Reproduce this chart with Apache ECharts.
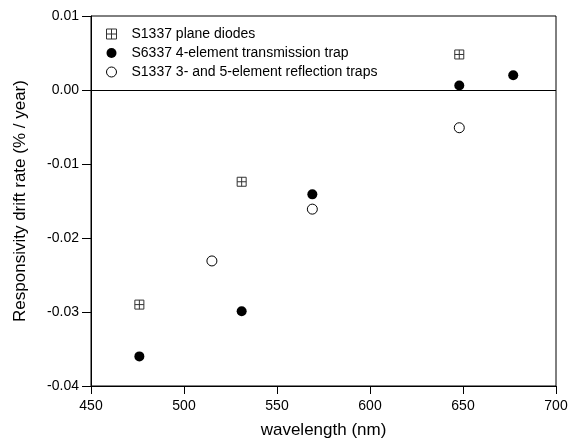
<!DOCTYPE html>
<html>
<head>
<meta charset="utf-8">
<script src="https://cdn.jsdelivr.net/npm/echarts@6/dist/echarts.min.js"></script>
<style>html,body{margin:0;padding:0;background:#fff}#c{width:568px;height:443px}</style>
</head>
<body>
<div id="c"></div>
<script>
const seriesNames = ['S1337 plane diodes', 'S6337 4-element transmission trap', 'S1337 3- and 5-element reflection traps'];
const planeDiodes = [[476, -0.0290], [531, -0.0124], [648, 0.0048]];
const transmissionTrap = [[476, -0.0360], [531, -0.0299], [569, -0.0141], [648, 0.0006], [677, 0.0020]];
const reflectionTraps = [[515, -0.0231], [569, -0.0161], [648, -0.0051]];
const xTicks = [450, 500, 550, 600, 650, 700];
const yTicks = [-0.04, -0.03, -0.02, -0.01, 0.00, 0.01];

const font = 'Liberation Sans, Arial, sans-serif';
const crossSquare = 'path://M0,0L10,0L10,10L0,10Z M5,0L5,10 M0,5L10,5';

const chart = echarts.init(document.getElementById('c'), null, {renderer: 'canvas'});
chart.setOption({
  animation: false,
  backgroundColor: '#fff',
  textStyle: {fontFamily: font, color: '#000'},
  grid: {left: 91, right: 12, top: 16, bottom: 57, show: true, borderColor: '#000', borderWidth: 1,
         backgroundColor: 'transparent', containLabel: false, outerBoundsMode: 'none'},
  legend: {
    orient: 'vertical', left: 101, top: 22, itemGap: 5, itemWidth: 10, itemHeight: 10,
    textStyle: {fontFamily: font, fontSize: 14, color: '#000', padding: [0, 0, 0, 10]},
    data: [
      {name: seriesNames[0], icon: crossSquare, itemStyle: {color: '#fff', borderColor: '#333', borderWidth: 1}},
      {name: seriesNames[1], icon: 'circle', itemStyle: {color: '#000'}},
      {name: seriesNames[2], icon: 'circle', itemStyle: {color: '#fff', borderColor: '#000', borderWidth: 1}}
    ]
  },
  xAxis: {
    type: 'value', min: xTicks[0], max: xTicks[xTicks.length - 1], interval: 50,
    name: 'wavelength (nm)', nameLocation: 'middle', nameGap: 36,
    nameTextStyle: {fontFamily: font, fontSize: 17, color: '#000'},
    axisLine: {show: true, onZero: false, lineStyle: {color: '#000', width: 1}},
    axisTick: {show: true, inside: false, length: 8, lineStyle: {color: '#000'}},
    axisLabel: {margin: 13, fontSize: 14, color: '#000', fontFamily: font},
    splitLine: {show: false}
  },
  yAxis: {
    type: 'value', min: yTicks[0], max: yTicks[yTicks.length - 1], interval: 0.01,
    name: 'Responsivity drift rate (% / year)', nameLocation: 'middle', nameGap: 62, nameRotate: 90,
    nameTextStyle: {fontFamily: font, fontSize: 17, color: '#000'},
    axisLine: {show: true, onZero: false, lineStyle: {color: '#000', width: 1}},
    axisTick: {show: true, inside: false, length: 9, lineStyle: {color: '#000'}},
    axisLabel: {margin: 12, fontSize: 14, color: '#000', fontFamily: font, formatter: v => v.toFixed(2)},
    splitLine: {show: false}
  },
  series: [
    {
      name: seriesNames[0], type: 'scatter', data: planeDiodes, symbol: crossSquare, symbolSize: 9,
      itemStyle: {color: '#fff', borderColor: '#333', borderWidth: 1, opacity: 1},
      markLine: {silent: true, symbol: 'none', label: {show: false}, lineStyle: {color: '#000', width: 1, type: 'solid'}, data: [{yAxis: 0}]},
      z: 3
    },
    {
      name: seriesNames[1], type: 'scatter', data: transmissionTrap, symbol: 'circle', symbolSize: 10,
      itemStyle: {color: '#000', opacity: 1}, z: 3
    },
    {
      name: seriesNames[2], type: 'scatter', data: reflectionTraps, symbol: 'circle', symbolSize: 10,
      itemStyle: {color: '#fff', borderColor: '#000', borderWidth: 1, opacity: 1}, z: 3
    }
  ]
});
</script>
</body>
</html>
